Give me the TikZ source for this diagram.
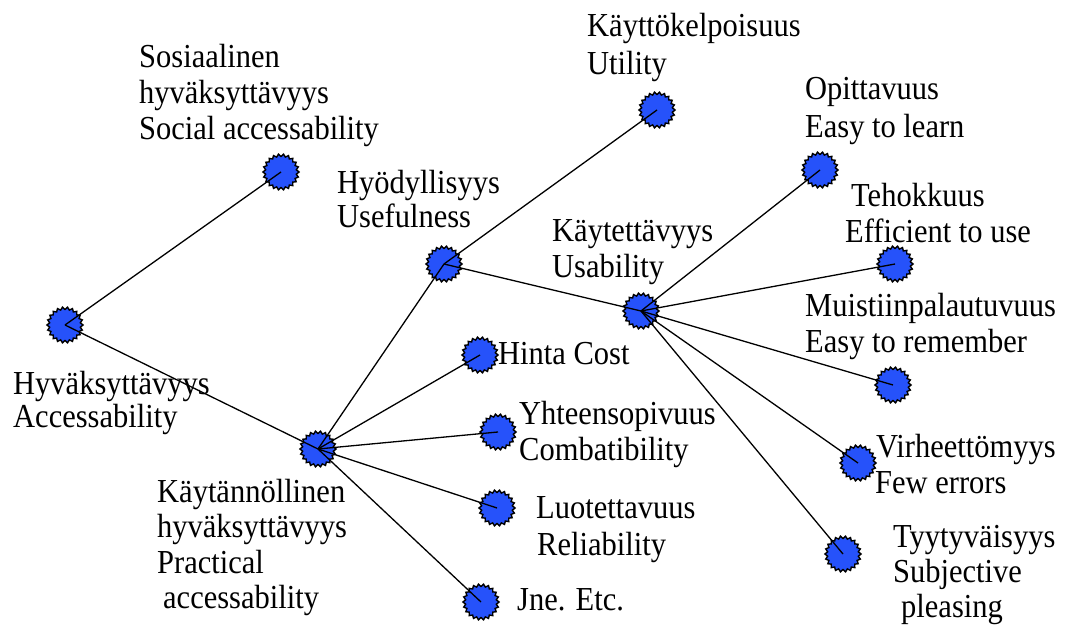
\documentclass[tikz,border=0pt]{standalone}
\usepackage{fontspec}
\usepackage{graphicx}
\setmainfont{Liberation Serif}
\usetikzlibrary{shapes.symbols,shapes.geometric}
\definecolor{blobblue}{RGB}{38,82,250}
\tikzset{
  blob/.style={star, star points=22, star point ratio=0.86, minimum size=31pt, inner sep=0pt,
    fill=blobblue, draw=black, line width=1.4pt},
  lab/.style={anchor=base west, inner sep=0pt, font=\fontsize{30.5}{34}\selectfont},
  conn/.style={draw=black, line width=1.3pt}
}
\newcommand\lbl[4]{\node[lab] (#1) at (#2,#3) {\scalebox{1}[1.1]{#4}};}
\begin{document}
\begin{tikzpicture}[x=1pt,y=-1pt]
\useasboundingbox (0,0) rectangle (1066,628);
% blobs
\node[blob] (hyv) at (65,325) {};
\node[blob] (sos) at (281,172) {};
\node[blob] (kay) at (318,449) {};
\node[blob] (hyod) at (444,264) {};
\node[blob] (util) at (657,110) {};
\node[blob] (usab) at (641,311) {};
\node[blob] (opi) at (820,170) {};
\node[blob] (teh) at (895,264) {};
\node[blob] (mui) at (893,385) {};
\node[blob] (vir) at (858,463) {};
\node[blob] (tyy) at (843,554) {};
\node[blob] (hin) at (480,355) {};
\node[blob] (yht) at (498,432) {};
\node[blob] (luo) at (497,508) {};
\node[blob] (jne) at (481,602) {};
% connectors
\draw[conn] (hyv.center) -- (sos.center);
\draw[conn] (hyv.center) -- (kay.center);
\draw[conn] (kay.center) -- (hyod.center);
\draw[conn] (kay.center) -- (hin.center);
\draw[conn] (kay.center) -- (yht.center);
\draw[conn] (kay.center) -- (luo.center);
\draw[conn] (kay.center) -- (jne.center);
\draw[conn] (hyod.center) -- (util.center);
\draw[conn] (hyod.center) -- (usab.center);
\draw[conn] (usab.center) -- (opi.center);
\draw[conn] (usab.center) -- (teh.center);
\draw[conn] (usab.center) -- (mui.center);
\draw[conn] (usab.center) -- (vir.center);
\draw[conn] (usab.center) -- (tyy.center);
% labels
\lbl{sosA}{139}{68}{Sosiaalinen}
\lbl{sosB}{139}{104}{hyväksyttävyys}
\lbl{sosC}{139}{140}{Social accessability}
\lbl{utiA}{587}{37}{Käyttökelpoisuus}
\lbl{utiB}{587}{75}{Utility}
\lbl{opiA}{805}{100}{Opittavuus}
\lbl{opiB}{805}{138}{Easy to learn}
\lbl{hyoA}{337}{194}{Hyödyllisyys}
\lbl{hyoB}{337}{228}{Usefulness}
\lbl{usaA}{552}{242}{Käytettävyys}
\lbl{usaB}{552}{278}{Usability}
\lbl{tehA}{851}{207}{Tehokkuus}
\lbl{tehB}{845}{243}{Efficient to use}
\lbl{muiA}{805}{317}{Muistiinpalautuvuus}
\lbl{muiB}{805}{353}{Easy to remember}
\lbl{hinA}{498}{365}{Hinta Cost}
\lbl{hyvA}{13}{394}{Hyväksyttävyys}
\lbl{hyvB}{13}{428}{Accessability}
\lbl{yhtA}{519}{424}{Yhteensopivuus}
\lbl{yhtB}{519}{460}{Combatibility}
\lbl{virA}{876}{457}{Virheettömyys}
\lbl{virB}{875}{493}{Few errors}
\lbl{kayA}{157}{502}{Käytännöllinen}
\lbl{kayB}{157}{537}{hyväksyttävyys}
\lbl{kayC}{157}{573}{Practical}
\lbl{kayD}{163}{608}{accessability}
\lbl{luoA}{536}{518}{Luotettavuus}
\lbl{luoB}{537}{555}{Reliability}
\lbl{jneA}{517}{610}{Jne. Etc.}
\lbl{tyyA}{893}{547}{Tyytyväisyys}
\lbl{tyyB}{893}{582}{Subjective}
\lbl{tyyC}{901}{617}{pleasing}
\end{tikzpicture}
\end{document}
